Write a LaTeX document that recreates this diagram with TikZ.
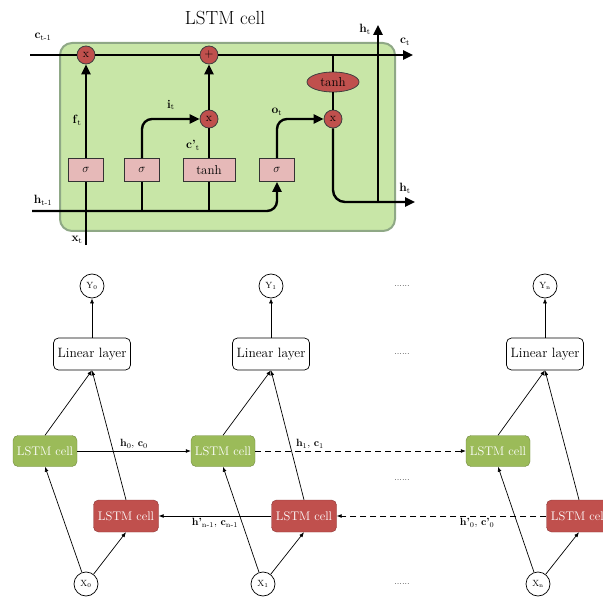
\documentclass[tikz,border=0pt]{standalone}
\usepackage{xcolor}
\usetikzlibrary{arrows.meta,shapes.geometric}
\definecolor{CellGreen}{HTML}{9BBB59}
\definecolor{CellGreenDark}{HTML}{71893F}
\definecolor{CellRed}{HTML}{C0504D}
\definecolor{CellRedDark}{HTML}{8C3836}
\definecolor{PanelGreen}{HTML}{C8E6A7}
\definecolor{PanelEdge}{HTML}{8FA886}
\definecolor{GatePink}{HTML}{E6B9B8}

\begin{document}
\begin{tikzpicture}[
  x=1pt,y=-1pt,
  flow/.style={line width=2.4pt,line join=round},
  flowarrow/.style={flow,-{Triangle[length=10pt,width=9pt]}},
  gate/.style={draw=black!80,fill=GatePink,line width=0.8pt,minimum height=23pt,
    minimum width=35pt,inner sep=0pt,font=\fontsize{13}{13}\selectfont},
  op/.style={circle,draw=black!75,fill=CellRed,line width=0.8pt,minimum size=18pt,
    inner sep=0pt,font=\fontsize{12}{12}\selectfont},
  lbl/.style={font=\fontsize{12}{12}\selectfont,inner sep=0pt},
  link/.style={-{Latex[length=5pt,width=4pt]},line width=0.7pt},
  linkdash/.style={link,dash pattern=on 6pt off 4pt},
  lstmg/.style={draw=CellGreenDark,fill=CellGreen,rounded corners=5pt,text=white,
    minimum width=64pt,minimum height=31pt,inner sep=0pt,font=\fontsize{12.5}{12.5}\selectfont},
  lstmr/.style={draw=CellRedDark,fill=CellRed,rounded corners=5pt,text=white,
    minimum width=65pt,minimum height=32pt,inner sep=0pt,font=\fontsize{12.5}{12.5}\selectfont},
  linear/.style={draw,rounded corners=5pt,line width=0.7pt,minimum width=77pt,
    minimum height=32pt,inner sep=0pt,font=\fontsize{13.5}{13.5}\selectfont},
  io/.style={circle,draw,line width=0.7pt,minimum size=24pt,inner sep=0pt,
    font=\fontsize{9}{9}\selectfont},
  dots/.style={font=\fontsize{9}{9}\selectfont,inner sep=0pt},
  edgelbl/.style={font=\fontsize{10.5}{10.5}\selectfont,inner sep=2pt},
]
\useasboundingbox (0,0) rectangle (603,599);

% single cell, unrolled gates
\node[font=\fontsize{19}{19}\selectfont] (title) at (225,18) {LSTM cell};
\node[draw=PanelEdge,fill=PanelGreen,line width=2pt,rounded corners=12pt,
  minimum width=335pt,minimum height=188pt] (panel) at (227.5,137) {};

\node[op] (mul1) at (86,55) {x};
\node[op] (add) at (209,55) {+};
\node[op] (mul2) at (209,119) {x};
\node[op] (mul3) at (333,119) {x};
\node[ellipse,draw=black!75,fill=CellRed,line width=0.8pt,minimum width=52pt,
  minimum height=20pt,inner sep=0pt,font=\fontsize{13}{13}\selectfont]
  (tanhout) at (333,82) {tanh};

\node[gate] (sig1) at (86,170) {$\sigma$};
\node[gate] (sig2) at (142,170) {$\sigma$};
\node[gate,minimum width=52pt] (tanhbox) at (209,170) {tanh};
\node[gate] (sig3) at (277,170) {$\sigma$};

\coordinate (cin) at (30,55);
\coordinate (cout) at (413,55);
\coordinate (tap) at (333,55);
\coordinate (hin) at (32,211);
\coordinate (xin) at (86,245);
\coordinate (hout) at (415,202);
\coordinate (hjoin) at (378,202);
\coordinate (hup) at (378,25);

\draw[flow] (cin) -- (mul1.west);
\draw[flow] (mul1.east) -- (add.west);
\draw[flowarrow] (add.east) -- (cout);

\draw[flowarrow,rounded corners=10pt] (hin) -- (sig3 |- hin) -- (sig3.south);
\draw[flow] (xin) -- (sig1.south);
\draw[flowarrow] (sig1.north) -- (mul1.south);
\draw[flow] (sig2 |- hin) -- (sig2.south);
\draw[flowarrow,rounded corners=10pt] (sig2.north) |- (mul2.west);
\draw[flow] (tanhbox |- hin) -- (tanhbox.south);
\draw[flow] (tanhbox.north) -- (mul2.south);
\draw[flowarrow] (mul2.north) -- (add.south);
\draw[flowarrow,rounded corners=10pt] (sig3.north) |- (mul3.west);
\draw[flow] (tap) -- (tanhout.north);
\draw[flow] (tanhout.south) -- (mul3.north);
\draw[flowarrow,rounded corners=12pt] (mul3.south) |- (hout);
\draw[flowarrow] (hjoin) -- (hup);

\node[lbl] (lcin) at (43,37) {\textbf{c}\textsubscript{t-1}};
\node[lbl] (lcout) at (405,42) {\textbf{c}\textsubscript{t}};
\node[lbl] (lhin) at (43,200) {\textbf{h}\textsubscript{t-1}};
\node[lbl] (lxin) at (77,240) {\textbf{x}\textsubscript{t}};
\node[lbl] (lf) at (77,120) {\textbf{f}\textsubscript{t}};
\node[lbl] (li) at (171,105) {\textbf{i}\textsubscript{t}};
\node[lbl] (lc) at (193,145) {\textbf{c'}\textsubscript{t}};
\node[lbl] (lo) at (277,112) {\textbf{o}\textsubscript{t}};
\node[lbl] (lhout) at (405,188) {\textbf{h}\textsubscript{t}};
\node[lbl] (lhup) at (365,29) {\textbf{h}\textsubscript{t}};

% bidirectional chain
\node[io] (y0) at (92,286) {Y\textsubscript{0}};
\node[linear] (lin0) at (92,354) {Linear layer};
\node[lstmg] (g0) at (45,451) {LSTM cell};
\node[lstmr] (r0) at (126,516) {LSTM cell};
\node[io] (x0) at (86,584) {X\textsubscript{0}};

\node[io] (y1) at (271,286) {Y\textsubscript{1}};
\node[linear] (lin1) at (271,354) {Linear layer};
\node[lstmg] (g1) at (223,451) {LSTM cell};
\node[lstmr] (r1) at (304,516) {LSTM cell};
\node[io] (x1) at (263,584) {X\textsubscript{1}};

\node[io] (yn) at (545,286) {Y\textsubscript{n}};
\node[linear] (linn) at (545,354) {Linear layer};
\node[lstmg] (gn) at (498,451) {LSTM cell};
\node[lstmr] (rn) at (579,516) {LSTM cell};
\node[io] (xn) at (538,584) {X\textsubscript{n}};

\node[dots] (d1) at (402,286) {......};
\node[dots] (d2) at (402,354) {......};
\node[dots] (d3) at (402,480) {......};
\node[dots] (d4) at (402,584) {......};

\foreach \i in {0,1,n}{
  \draw[link] (lin\i) -- (y\i);
  \draw[link] (g\i.north) -- (lin\i.south);
  \draw[link] (r\i.north) -- (lin\i.south);
  \draw[link] (x\i) -- (g\i.south);
  \draw[link] (x\i) -- (r\i.south);
}

\draw[link] (g0.east) -- node[edgelbl,above] {\textbf{h}\textsubscript{0}, \textbf{c}\textsubscript{0}} (g1.west);
\draw[linkdash] (g1.east) -- node[edgelbl,above,pos=0.26] {\textbf{h}\textsubscript{1}, \textbf{c}\textsubscript{1}} (gn.west);
\draw[link] (r1.west) -- node[edgelbl,below] {\textbf{h'}\textsubscript{n-1}, \textbf{c}\textsubscript{n-1}} (r0.east);
\draw[linkdash] (rn.west) -- node[edgelbl,below,pos=0.33] {\textbf{h'}\textsubscript{0}, \textbf{c'}\textsubscript{0}} (r1.east);
\end{tikzpicture}
\end{document}
